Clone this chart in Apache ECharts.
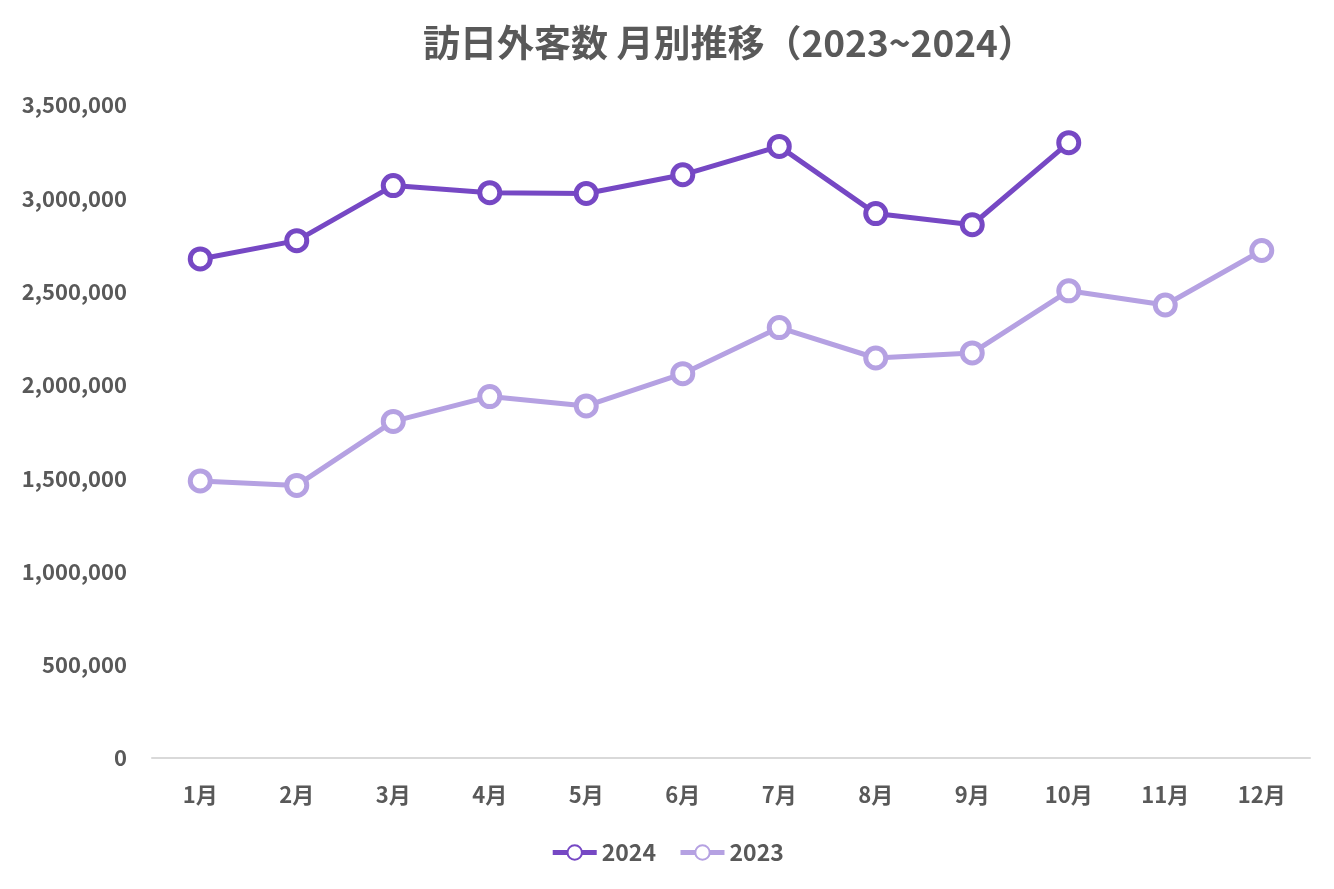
<!DOCTYPE html>
<html><head><meta charset="utf-8">
<script src="https://cdn.jsdelivr.net/npm/echarts@6/dist/echarts.min.js"></script>
<style>html,body{margin:0;padding:0;background:#fff}#c{width:1334px;height:889px}</style>
</head><body><div id="c"></div>
<script>
const months = ['1月','2月','3月','4月','5月','6月','7月','8月','9月','10月','11月','12月'];
const v2024 = [2675000, 2773000, 3068000, 3030000, 3026000, 3126000, 3278000, 2918000, 2858000, 3298000, null, null];
const v2023 = [1485000, 1461000, 1804000, 1937000, 1887000, 2060000, 2307000, 2144000, 2171000, 2504000, 2428000, 2720000];
const c2024 = '#7648C4';
const c2023 = '#B5A1E2';
const font = '"Noto Sans CJK JP", "Noto Sans", sans-serif';
const chart = echarts.init(document.getElementById('c'));
function ser(name, data, color) {
  return {
    name, type: 'line', data,
    symbol: 'circle', symbolSize: 20,
    lineStyle: { color, width: 5 },
    itemStyle: { color: '#fff', borderColor: color, borderWidth: 5 },
    emphasis: { disabled: true }
  };
}
chart.setOption({
  animation: false,
  textStyle: { fontFamily: font },
  title: {
    text: '訪日外客数 月別推移（2023~2024）',
    left: 418, top: 19,
    textStyle: { fontSize: 37, fontWeight: 'bold', color: '#595959', fontFamily: font }
  },
  legend: {
    bottom: 20, left: 'center',
    itemWidth: 44, itemHeight: 18, itemGap: 22,
    lineStyle: { width: 5 },
    textStyle: { fontSize: 23, fontWeight: 'bold', color: '#595959', fontFamily: font },
    data: ['2024', '2023']
  },
  grid: { left: 152, right: 24, top: 105, bottom: 131, containLabel: false },
  xAxis: {
    type: 'category', data: months, boundaryGap: true,
    axisLine: { lineStyle: { color: '#D9D9D9', width: 2 } },
    axisTick: { show: false },
    axisLabel: { fontSize: 22, fontWeight: 'bold', color: '#595959', margin: 26, fontFamily: font }
  },
  yAxis: {
    type: 'value', min: 0, max: 3500000, interval: 500000,
    splitLine: { show: false },
    axisLine: { show: false }, axisTick: { show: false },
    axisLabel: {
      fontSize: 22, fontWeight: 'bold', color: '#595959', margin: 25, fontFamily: font,
      formatter: v => v.toLocaleString('en-US')
    }
  },
  series: [ser('2024', v2024, c2024), ser('2023', v2023, c2023)]
});
</script></body></html>
